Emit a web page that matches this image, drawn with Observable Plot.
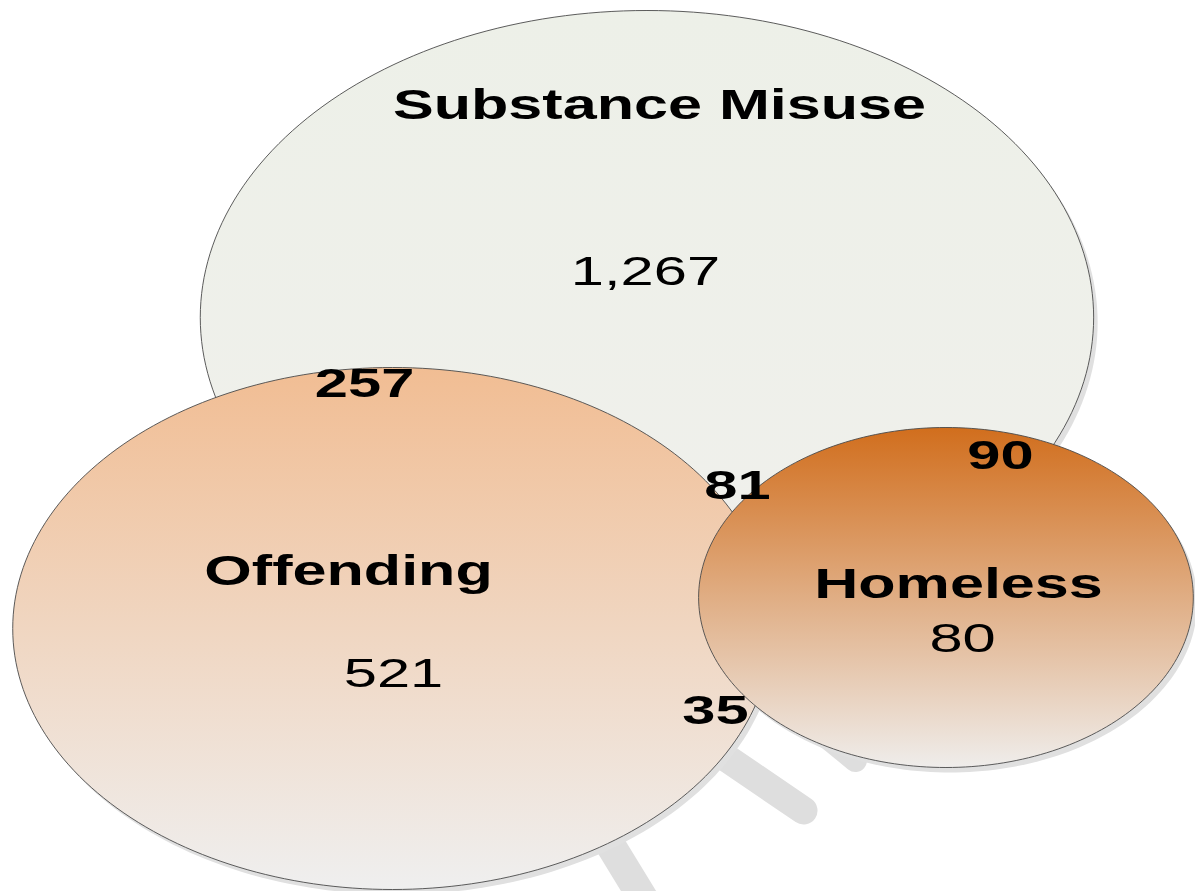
<!DOCTYPE html>
<html>
<head>
<meta charset="utf-8">
<script src="https://cdn.jsdelivr.net/npm/d3@7"></script>
<script src="https://cdn.jsdelivr.net/npm/@observablehq/plot@0.6"></script>
<style>
  html, body { margin: 0; padding: 0; background: #ffffff; }
  #chart svg { display: block; }
</style>
</head>
<body>
<div id="chart"></div>
<script>
// ---- Data (Venn diagram; coordinates in abstract circle units) ----
const setNames = ["Substance Misuse", "Offending", "Homeless"];
const setCx = [444.3, 269.4, 649.8];
const setCy = [317, 628, 597];
const setR = [307, 261, 170];

const nameX = [452.9, 239.2, 658.4];
const nameY = [104.6, 570.6, 583.6];

// region counts: only-SM, only-Off, only-Hom, SM∩Off, all three, Off∩Hom, SM∩Hom
const regionLabels = ["1,267", "521", "80", "257", "81", "35", "90"];
const regionBold = [false, false, false, true, true, true, true];
const regionX = [443.3, 270.1, 661.2, 250.2, 506.5, 491.4, 687.3];
const regionY = [271.6, 673.6, 638.6, 383.6, 485.6, 710.6, 455.6];

// decorative shadow spokes
const spokeX1 = [474.2, 408.9, 549.8];
const spokeY1 = [733, 820, 715];
const spokeX2 = [551.9, 446.7, 587.6];
const spokeY2 = [810, 910, 760];
const spokeW = [28, 30, 23];

const stretch = 1.455;
const W = 1195, H = 891;

// ---- build tables ----
const circles = setNames.map((name, i) => ({name, cx: setCx[i], cy: setCy[i], r: setR[i]}));
function outline(c) {
  const pts = [];
  for (let k = 0; k < 240; k++) {
    const t = (k / 240) * 2 * Math.PI;
    pts.push({name: c.name, x: c.cx + c.r * Math.cos(t), y: c.cy + c.r * Math.sin(t)});
  }
  return pts;
}
const outlines = circles.map(outline);
const names = setNames.map((n, i) => ({text: n, x: nameX[i], y: nameY[i]}));
const regions = regionLabels.map((t, i) => ({text: t, x: regionX[i], y: regionY[i], bold: regionBold[i]}));
const spokes = spokeX1.map((x1, i) => ({x1, y1: spokeY1[i], x2: spokeX2[i], y2: spokeY2[i], w: spokeW[i]}));

const grads = [
  {id: "gSM", top: "#edf0e8", bottom: "#f0f0ec"},
  {id: "gOff", top: "#f1bd93", bottom: "#efefef"},
  {id: "gHom", top: "#d16e1d", bottom: "#efedeb"}
];
function defsMark() {
  const defs = d3.create("svg:defs");
  for (const g of grads) {
    const lg = defs.append("linearGradient").attr("id", g.id)
      .attr("x1", 0).attr("y1", 0).attr("x2", 0).attr("y2", 1);
    lg.append("stop").attr("offset", "0%").attr("stop-color", g.top);
    lg.append("stop").attr("offset", "100%").attr("stop-color", g.bottom);
  }
  return defs.node();
}

const font = "'Liberation Sans', Arial, sans-serif";
const fills = ["url(#gSM)", "url(#gOff)", "url(#gHom)"];

const marks = [defsMark];
// spokes
for (const s of spokes) {
  marks.push(Plot.link([s], {x1: "x1", y1: "y1", x2: "x2", y2: "y2",
    stroke: "#dedede", strokeWidth: s.w, strokeLinecap: "round"}));
}
// shadows
outlines.forEach((pts) => {
  marks.push(Plot.line(pts, {x: "x", y: "y", curve: "linear-closed",
    fill: "#e0e0e0", stroke: "none", dx: 4, dy: 5}));
});
// circles
outlines.forEach((pts, i) => {
  marks.push(Plot.line(pts, {x: "x", y: "y", curve: "linear-closed",
    fill: fills[i], stroke: "#4a4a4a", strokeWidth: 0.9}));
});
marks.push(Plot.text(names, {x: "x", y: "y", text: "text", fontSize: 42,
  fontWeight: "bold", fill: "#000", fontFamily: font, textAnchor: "middle"}));
marks.push(Plot.text(regions.filter(d => d.bold), {x: "x", y: "y", text: "text", fontSize: 41,
  fontWeight: "bold", fill: "#000", fontFamily: font, textAnchor: "middle"}));
marks.push(Plot.text(regions.filter(d => !d.bold), {x: "x", y: "y", text: "text", fontSize: 41,
  fontWeight: "normal", fill: "#000", fontFamily: font, textAnchor: "middle"}));

const chart = Plot.plot({
  width: W,
  height: H,
  margin: 0,
  style: {background: "#ffffff", fontFamily: font},
  x: {domain: [0, W / stretch], range: [0, W], axis: null},
  y: {domain: [0, H], range: [0, H], axis: null},
  marks
});

// stretch text horizontally (around each label's anchor) to match the stretched diagram
d3.select(chart).selectAll("text").each(function () {
  const t = this.getAttribute("transform") || "";
  this.setAttribute("transform", `${t} scale(${stretch},1)`);
});

document.getElementById("chart").appendChild(chart);
</script>
</body>
</html>
